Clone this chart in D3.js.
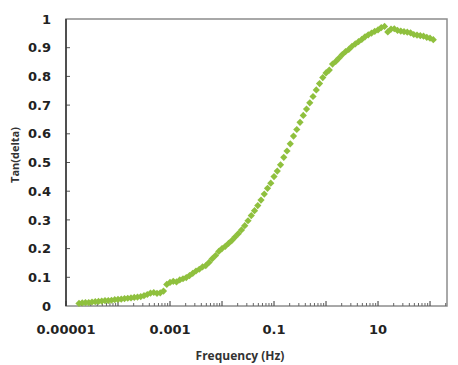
<!DOCTYPE html>
<html>
<head>
<meta charset="utf-8">
<script src="https://cdn.jsdelivr.net/npm/d3@7/dist/d3.min.js"></script>
<style>
  html, body { margin: 0; padding: 0; background: #fff; }
  svg { display: block; }
</style>
</head>
<body>
<svg id="chart" width="458" height="365"></svg>
<script>
// ---- Data ----
const frequency = [
  1.778e-5, 2.054e-5, 2.371e-5, 2.738e-5, 3.162e-5, 3.652e-5, 4.217e-5, 4.870e-5, 5.623e-5, 6.494e-5, 7.499e-5, 8.660e-5,
  1.000e-4, 1.155e-4, 1.334e-4, 1.540e-4, 1.778e-4, 2.054e-4, 2.371e-4, 2.738e-4, 3.162e-4, 3.652e-4, 4.217e-4, 4.870e-4, 5.623e-4, 6.494e-4, 7.499e-4, 8.660e-4,
  1.000e-3, 1.155e-3, 1.334e-3, 1.540e-3, 1.778e-3, 2.054e-3, 2.371e-3, 2.738e-3, 3.162e-3, 3.652e-3, 4.217e-3, 4.870e-3, 5.623e-3, 6.494e-3, 7.499e-3, 8.660e-3,
  1.000e-2, 1.155e-2, 1.334e-2, 1.540e-2, 1.778e-2, 2.054e-2, 2.371e-2, 2.738e-2, 3.162e-2, 3.652e-2, 4.217e-2, 4.870e-2, 5.623e-2, 6.494e-2, 7.499e-2, 8.660e-2,
  0.1000, 0.1155, 0.1334, 0.1540, 0.1778, 0.2054, 0.2371, 0.2738, 0.3162, 0.3652, 0.4217, 0.4870, 0.5623, 0.6494, 0.7499, 0.8660,
  1.000, 1.155, 1.334, 1.540, 1.778, 2.054, 2.371, 2.738, 3.162, 3.652, 4.217, 4.870, 5.623, 6.494, 7.499, 8.660,
  10.00, 11.55, 13.34, 15.40, 17.78, 20.54, 23.71, 27.38, 31.62, 36.52, 42.17, 48.70, 56.23, 64.94, 74.99, 86.60,
  100.0, 115.5
];
const tanDelta = [
  0.009, 0.011, 0.012, 0.012, 0.014, 0.015, 0.016, 0.017, 0.019, 0.019, 0.020, 0.022,
  0.023, 0.024, 0.026, 0.027, 0.028, 0.030, 0.031, 0.033, 0.036, 0.040, 0.045, 0.047, 0.044, 0.046, 0.052, 0.075,
  0.082, 0.086, 0.084, 0.091, 0.095, 0.099, 0.106, 0.114, 0.122, 0.128, 0.136, 0.141, 0.152, 0.165, 0.176, 0.190,
  0.200, 0.208, 0.218, 0.228, 0.240, 0.252, 0.265, 0.280, 0.297, 0.315, 0.332, 0.350, 0.369, 0.390, 0.410, 0.428,
  0.451, 0.470, 0.492, 0.518, 0.540, 0.565, 0.592, 0.615, 0.640, 0.664, 0.686, 0.708, 0.730, 0.753, 0.775, 0.796,
  0.812, 0.822, 0.843, 0.852, 0.864, 0.876, 0.886, 0.894, 0.905, 0.913, 0.921, 0.929, 0.938, 0.945, 0.951, 0.957,
  0.962, 0.970, 0.974, 0.955, 0.965, 0.966, 0.960, 0.958, 0.956, 0.954, 0.952, 0.946, 0.944, 0.942, 0.940, 0.936,
  0.933, 0.928
];
const xTickLabels = [1e-5, 1e-3, 1e-1, 10];
const xTickText = ["0.00001", "0.001", "0.1", "10"];
const xMajorTicks = [1e-5, 1e-4, 1e-3, 1e-2, 1e-1, 1, 10, 100];
const yTicks = [0, 0.1, 0.2, 0.3, 0.4, 0.5, 0.6, 0.7, 0.8, 0.9, 1];
const yTickText = ["0", "0.1", "0.2", "0.3", "0.4", "0.5", "0.6", "0.7", "0.8", "0.9", "1"];
const xDomain = [1e-5, 212];
const xTitle = "Frequency (Hz)";
const yTitle = "Tan(delta)";

// ---- Layout ----
const L = 66, R = 447, T = 19, B = 306;
const svg = d3.select("#chart");

const x = d3.scaleLog().domain(xDomain).range([L, R]);
const y = d3.scaleLinear().domain([0, 1]).range([B, T]);

const tickFont = "'DejaVu Sans', sans-serif";
const titleFont = "'Open Sans', sans-serif";

// frame (top + right + bottom)
svg.append("rect")
  .attr("x", L).attr("y", T).attr("width", R - L).attr("height", B - T)
  .attr("fill", "none").attr("stroke", "#8c8c8c").attr("stroke-width", 1.5);

// minor x ticks
const minor = [];
xMajorTicks.forEach(d => { for (let k = 2; k <= 9; k++) { const v = d * k; if (v <= xDomain[1]) minor.push(v); } });
svg.append("g").selectAll("line").data(minor).join("line")
  .attr("x1", d => x(d)).attr("x2", d => x(d))
  .attr("y1", B).attr("y2", B - 3)
  .attr("stroke", "#666").attr("stroke-width", 1);

// major x ticks
svg.append("g").selectAll("line").data(xMajorTicks).join("line")
  .attr("x1", d => x(d)).attr("x2", d => x(d))
  .attr("y1", B).attr("y2", B - 5)
  .attr("stroke", "#555").attr("stroke-width", 1.2);

// x tick labels
svg.append("g").selectAll("text").data(xTickLabels).join("text")
  .attr("x", d => x(d)).attr("y", 334)
  .attr("text-anchor", "middle")
  .attr("font-family", tickFont).attr("font-weight", "bold").attr("font-size", 13)
  .attr("fill", "#222")
  .text((d, i) => xTickText[i]);

// y ticks
svg.append("g").selectAll("line").data(yTicks.slice(1, -1)).join("line")
  .attr("x1", L).attr("x2", L + 4)
  .attr("y1", d => y(d)).attr("y2", d => y(d))
  .attr("stroke", "#555").attr("stroke-width", 1);

// y tick labels
svg.append("g").selectAll("text").data(yTicks).join("text")
  .attr("x", 51).attr("y", d => y(d)).attr("dy", "0.36em")
  .attr("text-anchor", "end")
  .attr("font-family", tickFont).attr("font-weight", "bold").attr("font-size", 13)
  .attr("fill", "#222")
  .text((d, i) => yTickText[i]);

// left axis line (darker)
svg.append("line")
  .attr("x1", L).attr("x2", L).attr("y1", T).attr("y2", B)
  .attr("stroke", "#333").attr("stroke-width", 1.5);

// data markers (diamonds)
const pts = frequency.map((f, i) => ({ f, v: tanDelta[i] }));
const sym = d3.symbol().type(d3.symbolSquare).size(26);
svg.append("g").selectAll("path").data(pts).join("path")
  .attr("d", sym)
  .attr("transform", d => `translate(${x(d.f)},${y(d.v)}) rotate(45)`)
  .attr("fill", "#8fc03e");

// titles
svg.append("text")
  .attr("x", 240).attr("y", 360)
  .attr("text-anchor", "middle")
  .attr("font-family", titleFont).attr("font-weight", "bold").attr("font-size", 12)
  .attr("fill", "#333")
  .text(xTitle);

svg.append("text")
  .attr("transform", "translate(19,155) rotate(-90)")
  .attr("text-anchor", "middle")
  .attr("font-family", titleFont).attr("font-weight", "bold").attr("font-size", 11)
  .attr("fill", "#333")
  .text(yTitle);
</script>
</body>
</html>
